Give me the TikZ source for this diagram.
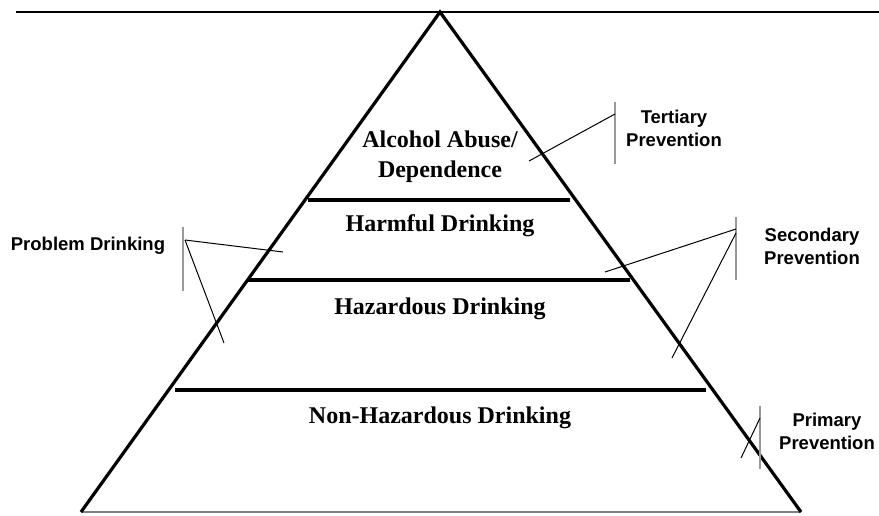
\documentclass[tikz,border=0pt]{standalone}
\usepackage{fontspec}
\setmainfont{Liberation Serif}
\setsansfont{Liberation Sans}
\begin{document}
\begin{tikzpicture}[x=1pt,y=-1pt,
  thick line/.style={line width=3.2pt,black},
  bracket/.style={line width=1.5pt,gray!80},
  pointer/.style={line width=1pt,black},
  tier/.style={font=\fontsize{24}{30}\selectfont\bfseries\rmfamily,align=center},
  side/.style={font=\fontsize{18.5}{23}\selectfont\bfseries\sffamily,align=center}]
\useasboundingbox (0,0) rectangle (879,515);
% top rule
\coordinate (tl) at (16,12);
\coordinate (tr) at (879,12);
\draw[line width=1.2pt] (tl) -- (tr);
% pyramid
\coordinate (apex) at (440,12);
\coordinate (bl) at (81,512);
\coordinate (br) at (801,512);
\draw[line width=1.3pt,gray] (bl) -- (br);
\draw[thick line,line join=miter] (bl) -- (apex) -- (br);
% tier separators
\coordinate (a1) at (308,200); \coordinate (a2) at (570,200);
\coordinate (b1) at (248,280); \coordinate (b2) at (630,280);
\coordinate (c1) at (175,390); \coordinate (c2) at (706,390);
\draw[thick line] (a1) -- (a2);
\draw[thick line] (b1) -- (b2);
\draw[thick line] (c1) -- (c2);
% tier labels
\node[tier] (t1) at (440,157) {Alcohol Abuse/\\Dependence};
\node[tier] (t2) at (440,226) {Harmful Drinking};
\node[tier] (t3) at (440,309) {Hazardous Drinking};
\node[tier] (t4) at (440,418) {Non-Hazardous Drinking};
% Tertiary
\node[side] (tert) at (674,128) {Tertiary\\Prevention};
\coordinate (tv1) at (615,102); \coordinate (tv2) at (615,164);
\coordinate (tp) at (615,114); \coordinate (te) at (529,161);
\draw[bracket] (tv1) -- (tv2);
\draw[pointer] (tp) -- (te);
% Problem drinking
\node[side] (prob) at (88,246) {Problem Drinking};
\coordinate (pv1) at (183,227); \coordinate (pv2) at (183,291);
\coordinate (pp) at (185,240);
\coordinate (pe1) at (283,252); \coordinate (pe2) at (224,343);
\draw[bracket] (pv1) -- (pv2);
\draw[pointer] (pp) -- (pe1);
\draw[pointer] (pp) -- (pe2);
% Secondary
\node[side] (sec) at (812,246) {Secondary\\Prevention};
\coordinate (sv1) at (736,217); \coordinate (sv2) at (736,280);
\coordinate (sp1) at (736,229); \coordinate (sp2) at (736,233);
\coordinate (se1) at (605,272); \coordinate (se2) at (672,358);
\draw[bracket] (sv1) -- (sv2);
\draw[pointer] (sp1) -- (se1);
\draw[pointer] (sp2) -- (se2);
% Primary
\node[side] (prim) at (827,431) {Primary\\Prevention};
\coordinate (mv1) at (760,406); \coordinate (mv2) at (760,469);
\coordinate (mp) at (760,418); \coordinate (me) at (741,458);
\draw[bracket] (mv1) -- (mv2);
\draw[pointer] (mp) -- (me);
\end{tikzpicture}
\end{document}
